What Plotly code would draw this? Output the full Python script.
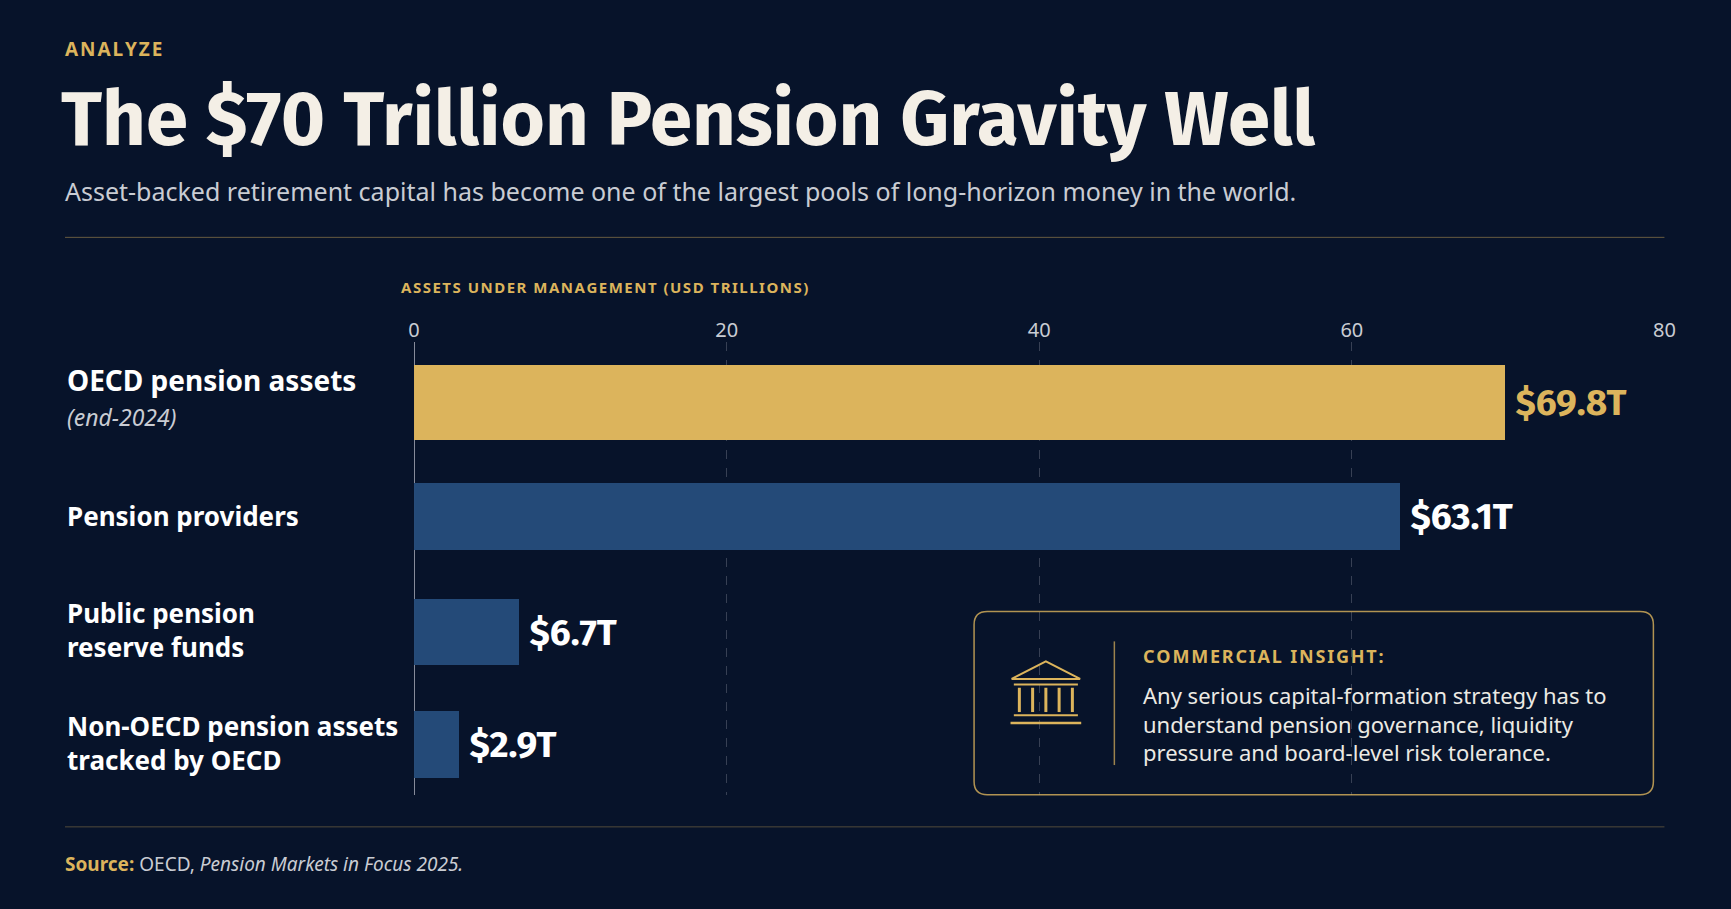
import plotly.graph_objects as go

categories = ["OECD pension assets", "Pension providers", "Public pension reserve funds", "Non-OECD pension assets tracked by OECD"]
values = [69.8, 63.1, 6.7, 2.9]
value_labels = ["$69.8T", "$63.1T", "$6.7T", "$2.9T"]
tick_vals = [0, 20, 40, 60, 80]

W, H = 1731, 909
S = W / 1568.0
def px(x): return ((x - 5.6) / 0.9896) * S / W
def py(y): return 1 - y * S / H

bar_centers = [365, 468, 573, 674.5]
bar_widths = [68, 60, 60, 61]
GOLD = "#dcb45c"
BLUE = "#244a78"
BG = "#07132a"

fig = go.Figure()
fig.add_trace(go.Bar(
    x=values, y=bar_centers, width=bar_widths, orientation="h",
    marker=dict(color=[GOLD, BLUE, BLUE, BLUE], line=dict(width=0)),
    text=value_labels, texttemplate="\u2009<b>%{text}</b>", textposition="outside", cliponaxis=False,
    textfont=dict(family="Fira Sans, Noto Sans", size=37, color=[GOLD, "white", "white", "white"]),
    hoverinfo="skip"))

fig.update_layout(
    width=W, height=H, margin=dict(l=0, r=0, t=0, b=0),
    paper_bgcolor=BG, plot_bgcolor=BG, showlegend=False, bargap=0,
    xaxis=dict(domain=[px(375), px(1507)], range=[0, 80], side="top", tickvals=tick_vals,
               showgrid=True, gridcolor="rgba(200,200,210,0.25)", griddash="dash", gridwidth=1,
               zeroline=True, zerolinecolor="rgba(220,220,230,0.6)", zerolinewidth=1,
               tickfont=dict(family="Noto Sans", size=20, color="#c9ccd3"), ticks="", showline=False),
    yaxis=dict(domain=[py(720), py(310)], range=[720, 310], visible=False, anchor="x"),
)

ann = []
def t(x, y, text, size, color, family="Noto Sans", xanchor="left", yanchor="middle"):
    ann.append(dict(x=px(x - 2), y=py(y), xref="paper", yref="paper", text=text, showarrow=False,
                    xanchor=xanchor, yanchor=yanchor, align="left",
                    font=dict(family=family, size=size, color=color)))

sp = "\u200a"
t(59, 44, "<b>" + sp.join("ANALYZE") + "</b>", 19, GOLD)
t(56, 108, "<b>The $70 Trillion Pension Gravity Well</b>", 76, "#f4efe6", family="Fira Sans, Noto Sans")
t(59, 173, "Asset-backed retirement capital has become one of the largest pools of long-horizon money in the world.", 25, "#c9ccd3")
t(363, 260, "<b>" + sp.join("ASSETS UNDER MANAGEMENT (USD TRILLIONS)") + "</b>", 15, GOLD)

t(61, 344, "<b>OECD pension assets</b>", 28, "white")
t(61, 378, "<i>(end-2024)</i>", 23, "#c9ccd3")
t(61, 467, "<b>Pension providers</b>", 26, "white")
t(61, 571, "<b>Public pension<br>reserve funds</b>", 26, "white")
t(61, 673, "<b>Non-OECD pension assets<br>tracked by OECD</b>", 26, "white")

t(1035, 594, "<b>" + sp.join("COMMERCIAL INSIGHT:") + "</b>", 18, GOLD)
t(1035, 655, "Any serious capital-formation strategy has to<br>understand pension governance, liquidity<br>pressure and board-level risk tolerance.", 22, "#eceae4")
t(59, 783, "<b>Source:</b> <span style='color:#c9ccd3'>OECD, <i>Pension Markets in Focus 2025.</i></span>", 19, GOLD)
fig.update_layout(annotations=ann)

shapes = []
def line(x0, y0, x1, y1, color, w=1):
    shapes.append(dict(type="line", xref="paper", yref="paper", x0=px(x0), y0=py(y0), x1=px(x1), y1=py(y1),
                       line=dict(color=color, width=w)))
line(59, 215, 1507, 215, "rgba(220,180,92,0.45)")
line(59, 749, 1507, 749, "rgba(220,180,92,0.35)")
line(1009, 581, 1009, 693, "rgba(220,180,92,0.7)", 1.5)

x0, y0, x1, y1, r = 882, 554, 1497, 720, 12
def Pp(x, y): return f"{px(x)},{py(y)}"
path = (f"M{Pp(x0+r,y0)} L{Pp(x1-r,y0)} Q{Pp(x1,y0)} {Pp(x1,y0+r)} L{Pp(x1,y1-r)} Q{Pp(x1,y1)} {Pp(x1-r,y1)} "
        f"L{Pp(x0+r,y1)} Q{Pp(x0,y1)} {Pp(x0,y1-r)} L{Pp(x0,y0+r)} Q{Pp(x0,y0)} {Pp(x0+r,y0)} Z")
shapes.append(dict(type="path", xref="paper", yref="paper", path=path,
                   line=dict(color="rgba(220,180,92,0.8)", width=1.5), fillcolor="rgba(0,0,0,0)"))

ic = GOLD
shapes.append(dict(type="path", xref="paper", yref="paper",
                   path=f"M{Pp(916,615)} L{Pp(947,599)} L{Pp(978,615)} Z", line=dict(color=ic, width=2)))
line(918, 620, 976, 620, ic, 2)
for cx in [923, 935, 947, 959, 971]:
    line(cx, 623, cx, 645, ic, 3)
line(918, 648, 976, 648, ic, 2)
line(915, 655, 979, 655, ic, 2.5)

fig.update_layout(shapes=shapes)
fig.write_html("out.html", config={"displayModeBar": False},
               post_script="document.body.style.margin='0';document.body.style.overflow='hidden';document.body.style.background='#07132a';")
